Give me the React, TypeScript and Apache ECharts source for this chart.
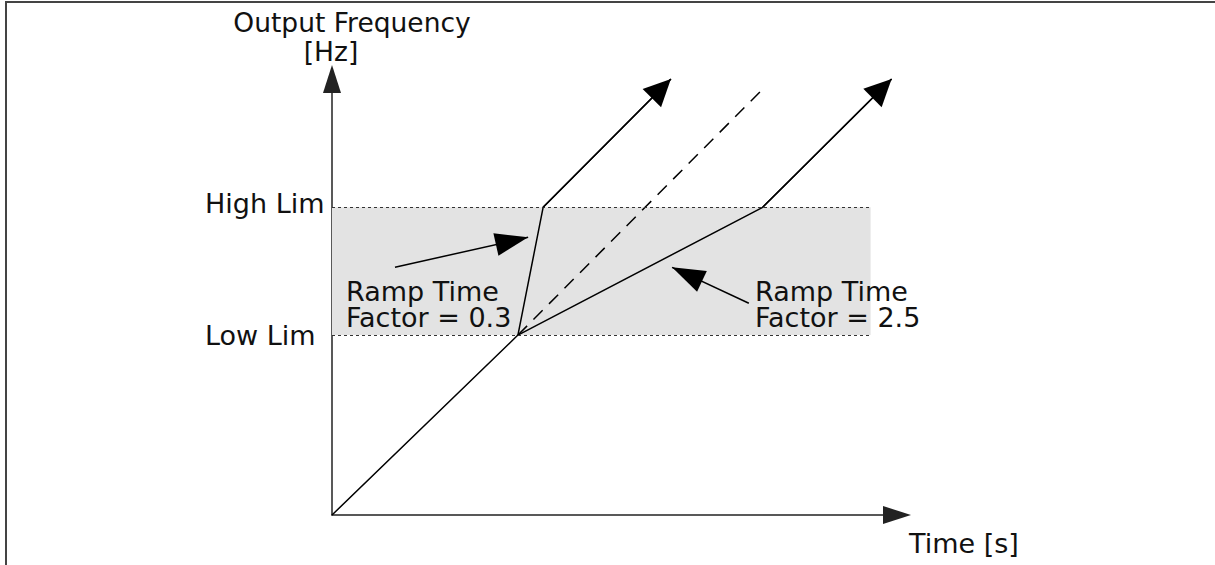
import React, { useEffect, useRef } from 'react';
import * as echarts from 'echarts';

// ---- data (axis units) ----
const lowLim = 3.0;
const highLim = 5.13;
const xMax = 9.42;
const yMax = 7.27;
const bandEnd = 8.98;
const limValues = [lowLim, highLim];
const limLabels = ['Low Lim', 'High Lim'];

const baseRamp = [[0, 0], [3.1, 3.0]];
const fastRamp = [[3.1, 3.0], [3.52, 5.13], [5.65, 7.27]];
const slowRamp = [[3.1, 3.0], [7.18, 5.13], [9.33, 7.27]];
const nominalRamp = [[3.1, 3.0], [7.18, 7.1]];
const fastPointer = [[1.05, 4.13], [3.27, 4.63]];
const slowPointer = [[6.95, 3.53], [5.67, 4.13]];

const yTitle = ['Output Frequency', '[Hz]'];
const xTitle = 'Time [s]';
const fastNote = ['Ramp Time', 'Factor = 0.3'];
const slowNote = ['Ramp Time', 'Factor = 2.5'];

const FONT = 'DejaVu Sans';

export default function App() {
  const ref = useRef<HTMLDivElement>(null);
  useEffect(() => {
    if (!ref.current) return;
    const chart = echarts.init(ref.current, null, { renderer: 'svg' });
    const solid = { color: '#000', width: 1.5, type: 'solid' as const };
    const txt = (text: string, x: number, y: number, align: string, size = 27) => ({
      type: 'text',
      x,
      y,
      z: 100,
      style: { text, fontSize: size, lineHeight: 26, fontFamily: FONT, fill: '#111', align, verticalAlign: 'middle' },
    });
    const option: any = {
      animation: false,
      backgroundColor: '#fff',
      grid: { left: 332, right: 318, top: 79, bottom: 50, containLabel: false, outerBoundsMode: 'none' },
      xAxis: {
        type: 'value',
        min: 0,
        max: xMax,
        axisLine: { show: true, symbol: ['none', 'triangle'], symbolSize: [18, 28], lineStyle: { color: '#222', width: 1.5 } },
        axisTick: { show: false },
        axisLabel: { show: false },
        splitLine: { show: false },
      },
      yAxis: {
        type: 'value',
        min: 0,
        max: yMax,
        axisLine: { show: true, symbol: ['none', 'triangle'], symbolSize: [18, 28], lineStyle: { color: '#222', width: 1.5 } },
        axisTick: { show: false },
        splitLine: { show: false },
        axisLabel: {
          show: true,
          customValues: limValues,
          align: 'left',
          margin: 127,
          formatter: (v: number) => {
            const i = limValues.findIndex((l) => Math.abs(l - v) < 1e-6);
            return i === 1 ? '{hi|' + limLabels[i] + '}' : '{lo|' + (limLabels[i] ?? '') + '}';
          },
          rich: {
            hi: { fontSize: 27, fontFamily: FONT, color: '#111', padding: [0, 0, 8, 0] },
            lo: { fontSize: 27, fontFamily: FONT, color: '#111' },
          },
        },
      },
      series: [
        {
          type: 'line',
          data: nominalRamp,
          showSymbol: false,
          silent: true,
          lineStyle: { color: '#000', width: 1.5, type: [13, 9] },
          markArea: {
            silent: true,
            itemStyle: { color: '#e3e3e3' },
            data: [[{ coord: [0, lowLim] }, { coord: [bandEnd, highLim] }]],
          },
          markLine: {
            silent: true,
            symbol: ['none', 'none'],
            label: { show: false },
            lineStyle: { color: '#333', width: 1, type: [3, 3] },
            data: limValues.map((v) => [{ coord: [0, v] }, { coord: [bandEnd, v] }]),
          },
        },
        {
          type: 'line',
          data: [...baseRamp, ...fastRamp.slice(1)],
          showSymbol: false,
          silent: true,
          lineStyle: solid,
          markLine: {
            silent: true,
            symbol: ['none', 'triangle'],
            symbolSize: [26, 27],
            symbolOffset: [0, [0, 13.5]],
            label: { show: false },
            lineStyle: solid,
            data: [[{ coord: fastRamp[1] }, { coord: fastRamp[2] }]],
          },
        },
        {
          type: 'line',
          data: slowRamp,
          showSymbol: false,
          silent: true,
          lineStyle: solid,
          markLine: {
            silent: true,
            symbol: ['none', 'triangle'],
            symbolSize: [26, 27],
            symbolOffset: [0, [0, 13.5]],
            label: { show: false },
            lineStyle: solid,
            data: [[{ coord: slowRamp[1] }, { coord: slowRamp[2] }]],
          },
        },
        {
          type: 'line',
          data: [],
          showSymbol: false,
          silent: true,
          markLine: {
            silent: true,
            symbol: ['none', 'triangle'],
            symbolSize: [23, 33],
            symbolOffset: [0, [0, 16.5]],
            label: { show: false },
            lineStyle: solid,
            data: [
              [{ coord: fastPointer[0] }, { coord: fastPointer[1] }],
              [{ coord: slowPointer[0] }, { coord: slowPointer[1] }],
            ],
          },
        },
      ],
      graphic: [
        { type: 'line', z: 100, shape: { x1: 5, y1: 2, x2: 1215, y2: 2 }, style: { stroke: '#444', lineWidth: 2 } },
        { type: 'line', z: 100, shape: { x1: 6, y1: 1, x2: 6, y2: 565 }, style: { stroke: '#444', lineWidth: 2 } },
        txt(yTitle[0], 352, 22.5, 'center', 26.5),
        txt(yTitle[1], 331, 51, 'center', 26.5),
        txt(xTitle, 909, 543, 'left'),
        txt(fastNote.join('\n'), 346, 304, 'left'),
        txt(slowNote.join('\n'), 755, 304, 'left'),
      ],
    };
    chart.setOption(option);
    return () => chart.dispose();
  }, []);
  return (
    <div
      ref={ref}
      style={{ position: 'absolute', left: 0, top: 0, width: 1215, height: 565, background: '#fff' }}
    />
  );
}
